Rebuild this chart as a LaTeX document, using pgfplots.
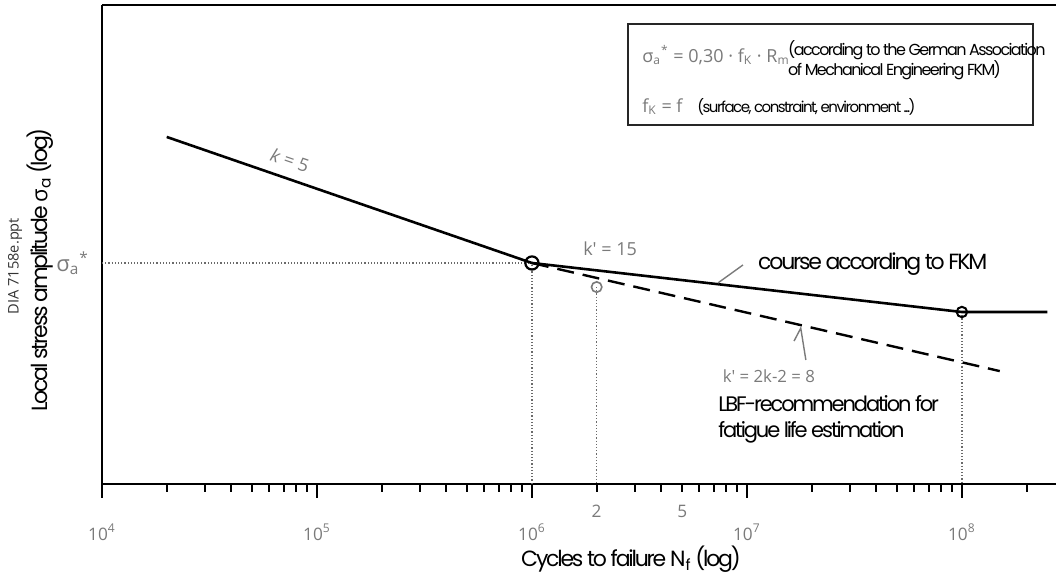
\documentclass[border=0pt]{standalone}
\usepackage{fontspec}
\usepackage{pgfplots}
\pgfplotsset{compat=1.18}
\setmainfont{Open Sans}
\newfontfamily\gfont{Poppins}[LetterSpace=-10.0]
\newfontfamily\osans{Open Sans}
\definecolor{tg}{HTML}{7A7A7A}
\definecolor{dotc}{HTML}{6A6A6A}
\begin{document}
\begin{tikzpicture}
\useasboundingbox (-51pt,-46pt) rectangle (477pt,242pt);
\begin{axis}[
  at={(0,0)}, anchor=south west, scale only axis,
  width=477pt, height=239.5pt,
  xmode=log, log basis x=10,
  xmin=1e4, xmax=2.74e8,
  ymin=-0.597, ymax=0.697,
  axis x line=box, axis y line=left,
  x axis line style={-}, y axis line style={-},
  axis line style={line width=1pt, black},
  clip=false,
  xtick pos=bottom,
  tick align=outside,
  major tick length=7pt, minor tick length=4pt,
  every major tick/.style={black, line width=1.1pt},
  every minor tick/.style={black, line width=1pt},
  xtick={1e4,1e5,1e6,1e7,1e8},
  xticklabels={10\textsuperscript{4},10\textsuperscript{5},10\textsuperscript{6},10\textsuperscript{7},10\textsuperscript{8}},
  minor xtick={2e4,3e4,4e4,5e4,6e4,7e4,8e4,9e4,2e5,3e5,4e5,5e5,6e5,7e5,8e5,9e5,2e6,3e6,4e6,5e6,6e6,7e6,8e6,9e6,2e7,3e7,4e7,5e7,6e7,7e7,8e7,9e7,2e8},
  xticklabel style={text=tg, font=\osans\fontsize{8.6}{9}\selectfont, anchor=center, yshift=-17pt},
  extra x ticks={2e6,5e6},
  extra x tick labels={2,5},
  extra x tick style={major tick length=4pt, every major tick/.style={black, line width=1pt}, xticklabel style={yshift=7.5pt}},
  ytick={0},
  yticklabels={σ\textsubscript{a}\textsuperscript{*}},
  ytick style={draw=none},
  yticklabel style={text=tg, font=\osans\fontsize{11}{12}\selectfont, xshift=4pt},
  xlabel={Cycles to failure N\textsubscript{f} (log)},
  ylabel={Local stress amplitude {\osans σ}\textsubscript{a} (log)},
  every axis x label/.style={at={(axis description cs:0.5545,-0.157)}, anchor=center, font=\gfont\fontsize{11}{12}\selectfont},
  every axis y label/.style={at={(axis description cs:-0.065,0.447)}, rotate=90, anchor=center, font=\gfont\fontsize{11}{12}\selectfont},
]
% guide lines
\addplot[dotc, densely dotted, line width=0.6pt] coordinates {(1e4,0) (1e6,0) (1e6,-0.597)};
\addplot[dotc, densely dotted, line width=0.6pt] coordinates {(2e6,-0.065) (2e6,-0.597)};
\addplot[dotc, densely dotted, line width=0.6pt] coordinates {(1e8,-0.1324) (1e8,-0.597)};
% FKM course
\addplot[black, line width=1.3pt] coordinates {(2e4,0.3405) (1e6,0) (1e8,-0.1324) (2.5e8,-0.1324)};
% LBF recommendation
\addplot[black, line width=1.2pt, dash pattern=on 8.5pt off 4.5pt] coordinates {(1e6,0) (1.5e8,-0.292)};
% points
\addplot[only marks, mark=o, mark size=3.3pt, black, line width=1.1pt] coordinates {(1e6,0)};
\addplot[only marks, mark=o, mark size=2.6pt, black, line width=1pt] coordinates {(1e8,-0.1324)};
\addplot[only marks, mark=o, mark size=2.6pt, tg, line width=0.8pt] coordinates {(2e6,-0.065)};
% leaders
\draw[tg, line width=0.7pt] (axis cs:7.33e6,-0.054) -- (axis cs:9.58e6,-0.0054);
\draw[tg, line width=0.7pt] (axis cs:1.656e7,-0.211) -- (axis cs:1.78e7,-0.176) -- (axis cs:1.88e7,-0.262);
% annotations
\node[rotate=-19, text=tg, font=\osans\fontsize{9}{10}\selectfont] at (axis cs:7.49e4,0.278) {\textit{k} = 5};
\node[text=tg, font=\osans\fontsize{9}{10}\selectfont] at (axis cs:2.31e6,0.038) {k' = 15};
\node[font=\gfont\fontsize{11}{12}\selectfont] at (axis cs:3.85e7,-0.003) {course according to FKM};
\node[text=tg, font=\osans\fontsize{8.4}{9}\selectfont] at (axis cs:1.265e7,-0.305) {k' = 2k-2 = 8};
\node[anchor=west, align=left, inner sep=0pt, font=\gfont\fontsize{10.5}{13}\selectfont] at (axis cs:7.33e6,-0.4216) {LBF-recommendation for\\fatigue life estimation};
% box
\draw[black!85, line width=0.8pt, fill=white] (axis cs:2.8e6,0.373) rectangle (axis cs:2.14e8,0.646);
\node[anchor=west, inner sep=0pt, text=tg, font=\osans\fontsize{9}{10}\selectfont] at (axis cs:3.25e6,0.562) {σ\textsubscript{a}\textsuperscript{*} = 0,30 · f\textsubscript{K} · R\textsubscript{m}};
\node[anchor=west, inner sep=0pt, font=\gfont\fontsize{8}{9}\selectfont] at (axis cs:1.55e7,0.576) {(according to the German Association};
\node[anchor=west, inner sep=0pt, font=\gfont\fontsize{8}{9}\selectfont] at (axis cs:1.55e7,0.522) {of Mechanical Engineering FKM)};
\node[anchor=west, inner sep=0pt, text=tg, font=\osans\fontsize{9}{10}\selectfont] at (axis cs:3.25e6,0.4216) {f\textsubscript{K} = f};
\node[anchor=west, inner sep=0pt, font=\gfont\fontsize{7.5}{9}\selectfont] at (axis cs:5.85e6,0.4216) {(surface, constraint, environment ...)};
% file tag
\node[rotate=90, text=black!80, font=\osans\fontsize{7.3}{8}\selectfont] at (axis description cs:-0.0912,0.455) {DIA 7158e.ppt};
\end{axis}
\end{tikzpicture}
\end{document}
